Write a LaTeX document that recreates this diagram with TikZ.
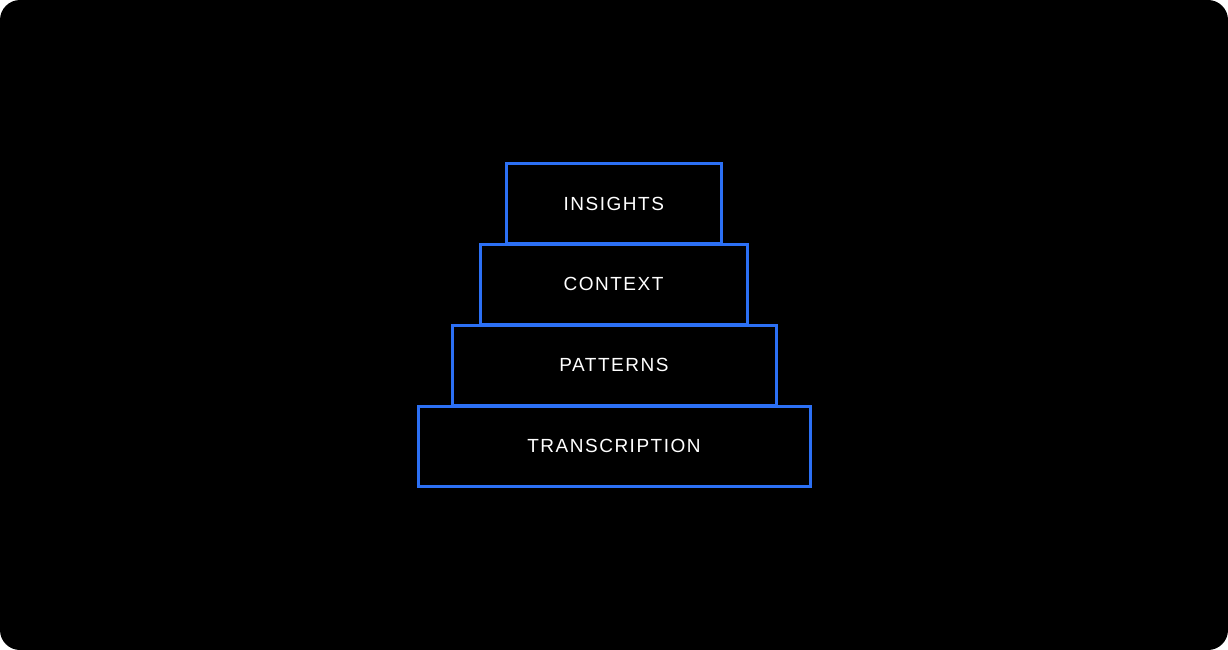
\documentclass[tikz,border=0pt]{standalone}
\usepackage{fontspec}
\setmainfont{Liberation Sans}[LetterSpace=8]
\definecolor{tierblue}{RGB}{44,112,245}
\begin{document}
\begin{tikzpicture}[x=1pt,y=-1pt,
  tier/.style={draw=tierblue, line width=3pt, inner sep=0pt, outer sep=0pt,
    minimum height=80pt, text=white, font=\fontsize{19}{21}\selectfont, anchor=center}]
\useasboundingbox (0,0) rectangle (1228,650);
\fill[white] (0,0) rectangle (1228,650);
\fill[black, rounded corners=20pt] (0,0) rectangle (1228,650);
\node[tier, minimum width=392pt] (transcription) at (614,446) {TRANSCRIPTION};
\node[tier, minimum width=324pt] (patterns) at (614,365) {PATTERNS};
\node[tier, minimum width=267pt] (context) at (613.5,284) {CONTEXT};
\node[tier, minimum width=214.5pt] (insights) at (613.75,203.5) {INSIGHTS};
\end{tikzpicture}
\end{document}
